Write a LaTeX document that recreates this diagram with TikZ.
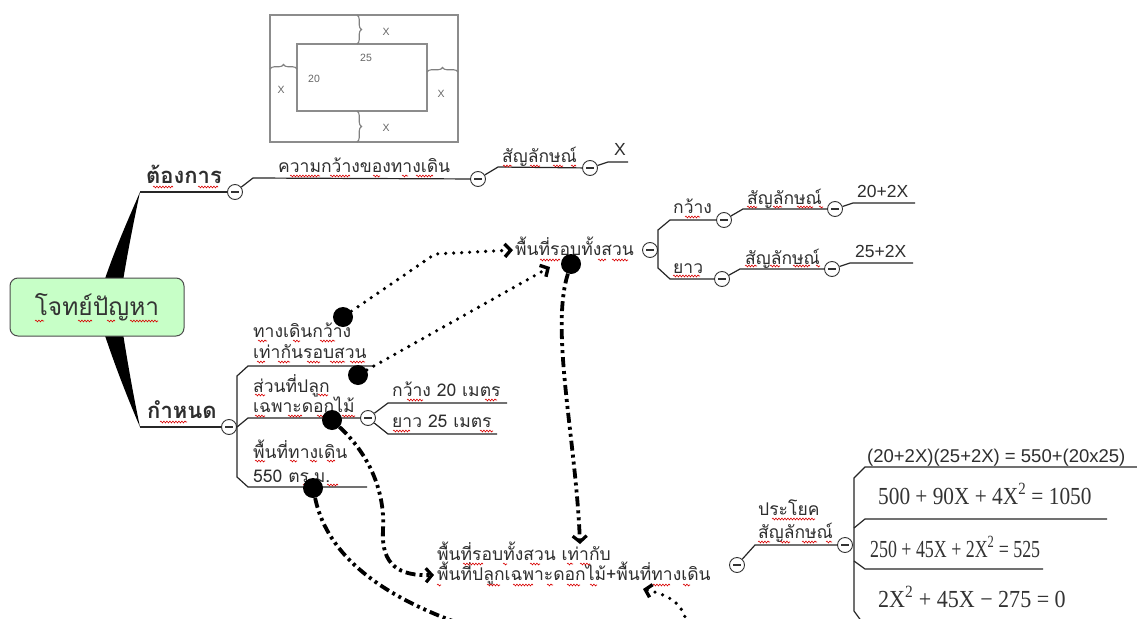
\documentclass[tikz,border=0pt]{standalone}
\usepackage{fontspec}
\setmainfont{Loma}[Script=Thai]
\newfontfamily\eqfont{Liberation Serif}
\newfontfamily\latsans{Liberation Sans}
\usetikzlibrary{arrows.meta,calc,decorations.pathreplacing,decorations.pathmorphing}

\tikzset{
  topic/.style={anchor=base west, inner sep=0pt, text=black!82,
    font=\fontsize{17.5}{20}\selectfont},
  headtopic/.style={topic, font=\fontsize{22}{24}\selectfont\bfseries},
  valtext/.style={topic, font=\latsans\fontsize{17.5}{20}\selectfont},
  eqtext/.style={anchor=base west, inner sep=0pt, text=black!80,
    font=\eqfont\fontsize{24.5}{28}\selectfont},
  rootbox/.style={draw=black!70, line width=1pt, rounded corners=8pt,
    fill=green!22!white, minimum width=174pt, minimum height=58pt,
    font=\fontsize{24.5}{28}\selectfont, text=black!80},
  fold/.style={circle, draw=black!80, fill=white, line width=0.9pt,
    minimum size=15pt, inner sep=0pt,
    path picture={\draw[line width=1.1pt]
      ([xshift=3.5pt]path picture bounding box.west) --
      ([xshift=-3.5pt]path picture bounding box.east);}},
  branch/.style={draw=black!85, line width=1.2pt},
  dot/.style={circle, fill=black, minimum size=20pt, inner sep=0pt},
  dotflow/.style={line width=3.6pt, line cap=round,
    dash pattern=on 0pt off 8pt, -{Straight Barb[length=6pt,width=13pt,line width=3.4pt]}},
  dashflow/.style={line width=3.8pt,
    dash pattern=on 10pt off 4pt on 3pt off 4pt on 3pt off 4pt,
    -{Straight Barb[length=6pt,width=14pt,line width=3.2pt]}},
  plan/.style={draw=black!45, line width=1.4pt},
  planlbl/.style={inner sep=0pt, text=black!60, font=\latsans\fontsize{10.5}{12}\selectfont},
  planbrace/.style={draw=black!50, line width=1.1pt, decorate,
    decoration={brace, amplitude=4.5pt}},
  squiggle/.style={draw=red!85!black, line width=0.6pt, decorate,
    decoration={snake, segment length=3pt, amplitude=0.9pt}}
}
% red wavy spell-check marks under words: {x from}{x to}{y}
\newcommand\squig[3]{\draw[squiggle] (#1,#3) -- (#2,#3);}

\begin{document}
\begin{tikzpicture}[x=1pt, y=-1pt]
\useasboundingbox (0,0) rectangle (1137,618);
\fill[white] (0,0) rectangle (1137,618);
\clip (0,0) rectangle (1137,618);

% ---------- garden plan ----------
\draw[plan] (270,15) rectangle (458,142);
\draw[plan] (297,44) rectangle (427,111);
\draw[planbrace] (357,15) -- (357,44);
\draw[planbrace] (357,111) -- (357,142);
\draw[planbrace] (270,69) -- (297,69);
\draw[planbrace] (427,72) -- (458,72);
\node[planlbl] (pxt) at (386,32) {X};
\node[planlbl] (pxb) at (386,128) {X};
\node[planlbl] (pxl) at (281,90) {X};
\node[planlbl] (pxr) at (441,94) {X};
\node[planlbl] (p25) at (366,58) {25};
\node[planlbl] (p20) at (314,79) {20};

% ---------- root and its two thick branches ----------
\fill[black] (98,300) .. controls (112,255) and (128,220) .. (140,192)
  .. controls (133,225) and (126,260) .. (120,300) -- cycle;
\fill[black] (98,314) .. controls (112,359) and (128,399) .. (140,427)
  .. controls (133,394) and (126,354) .. (120,314) -- cycle;
\node[rootbox] (root) at (97,307) {โจทย์ปัญหา};

% ---------- "wanted" branch ----------
\node[headtopic] (want) at (146,183) {ต้องการ};
\node[fold] (cwant) at (235,192) {};
\draw[branch] (140,192) -- (cwant);
\node[topic] (width) at (278,172) {ความกว้างของทางเดิน};
\node[fold] (cwidth) at (478,179) {};
\draw[branch] (cwant) -- (253,178) -- (cwidth);
\node[topic] (sym1) at (502,162) {สัญลักษณ์};
\node[fold] (csym1) at (590,168) {};
\draw[branch] (cwidth) -- (498,167) -- (csym1);
\node[valtext] (xval) at (614,155) {X};
\draw[branch] (csym1) -- (608,162) -- (628,162);

% ---------- area round the whole garden ----------
\node[topic] (round) at (515,255) {พื้นที่รอบทั้งสวน};
\node[fold] (cround) at (650,250) {};
\draw[branch] (717,220) -- (670,220) -- (658,230) -- (658,268) -- (670,279) -- (714,279);
\node[topic] (wide) at (673,213) {กว้าง};
\node[fold] (cw) at (724,220) {};
\node[topic] (symw) at (747,204) {สัญลักษณ์};
\node[fold] (csw) at (835,209) {};
\draw[branch] (cw) -- (743,209) -- (csw);
\node[valtext] (vw) at (857,197) {20+2X};
\draw[branch] (csw) -- (853,203) -- (915,203);
\node[topic] (long) at (673,273) {ยาว};
\node[fold] (cl) at (722,279) {};
\node[topic] (syml) at (745,264) {สัญลักษณ์};
\node[fold] (csl) at (832,269) {};
\draw[branch] (cl) -- (740,269) -- (csl);
\node[valtext] (vl) at (855,257) {25+2X};
\draw[branch] (csl) -- (850,263) -- (913,263);

% ---------- "given" branch ----------
\node[headtopic] (give) at (147,418) {กำหนด};
\node[fold] (cgive) at (229,427) {};
\draw[branch] (140,427) -- (cgive);
\draw[branch] (373,366) -- (248,366) -- (237,376) -- (237,477) -- (248,487) -- (367,487);
\node[topic] (path1) at (253,337) {ทางเดินกว้าง};
\node[topic] (path2) at (253,358) {เท่ากันรอบสวน};
\node[topic] (plant1) at (253,392) {ส่วนที่ปลูก};
\node[topic] (plant2) at (253,412) {เฉพาะดอกไม้};
\node[fold] (cplant) at (368,418) {};
\draw[branch] (237,427) -- (248,418) -- (cplant);
\node[topic] (pw) at (392,396) {กว้าง 20 เมตร};
\node[topic] (pl) at (392,427) {ยาว 25 เมตร};
\draw[branch] (cplant) -- (388,403) -- (507,403);
\draw[branch] (cplant) -- (388,434) -- (497,434);
\node[topic] (walk1) at (253,458) {พื้นที่ทางเดิน};
\node[topic] (walk2) at (253,482) {550 ตร.ม.};

% ---------- equation of areas ----------
\node[topic] (eqa) at (437,560) {พื้นที่รอบทั้งสวน เท่ากับ};
\node[topic] (eqb) at (437,580) {พื้นที่ปลูกเฉพาะดอกไม้+พื้นที่ทางเดิน};
\node[fold] (ceq) at (737,565) {};
\node[topic] (sent1) at (758,515) {ประโยค};
\node[topic] (sent2) at (758,538) {สัญลักษณ์};
\node[fold] (csent) at (845,545) {};
\draw[branch] (ceq) -- (755,545) -- (csent);
\draw[branch] (1137,467) -- (865,467) -- (854,478) -- (854,611) -- (862,622);
\draw[branch] (854,528) -- (865,519) -- (1107,519);
\draw[branch] (854,561) -- (865,569) -- (1043,569);
\node[valtext, font=\latsans\fontsize{18.5}{20}\selectfont] (e0) at (867,462) {(20+2X)(25+2X) = 550+(20x25)};
\node[eqtext, xscale=0.87] (e1) at (878,504) {500 + 90X + 4X\textsuperscript{2} = 1050};
\node[eqtext, xscale=0.73] (e2) at (870,557) {250 + 45X + 2X\textsuperscript{2} = 525};
\node[eqtext, xscale=0.9] (e3) at (878,607) {2X\textsuperscript{2} + 45X − 275 = 0};

% ---------- spell-check marks ----------
\squig{153}{173}{187}\squig{198}{218}{187}
\squig{35}{44}{321}\squig{78}{92}{321}\squig{107}{115}{321}\squig{130}{158}{321}
\squig{160}{187}{422}
\squig{290}{320}{176}\squig{330}{350}{176}\squig{373}{380}{176}\squig{402}{408}{176}\squig{416}{433}{176}
\squig{503}{512}{166}\squig{530}{540}{166}\squig{553}{563}{166}\squig{571}{576}{166}
\squig{540}{560}{260}\squig{598}{606}{260}\squig{612}{628}{260}
\squig{685}{700}{217}
\squig{747}{757}{207}\squig{773}{782}{207}\squig{797}{813}{207}\squig{819}{823}{207}
\squig{673}{700}{276}
\squig{745}{757}{266}\squig{770}{780}{266}\squig{793}{810}{266}\squig{816}{820}{266}
\squig{258}{267}{341}\squig{293}{300}{341}\squig{320}{335}{341}
\squig{257}{265}{362}\squig{278}{290}{362}\squig{307}{320}{362}\squig{330}{345}{362}\squig{350}{365}{362}
\squig{255}{265}{395}\squig{318}{328}{395}
\squig{255}{265}{416}\squig{288}{302}{416}\squig{317}{330}{416}\squig{342}{355}{416}
\squig{407}{423}{400}\squig{485}{497}{400}
\squig{393}{410}{431}\squig{480}{493}{431}
\squig{255}{265}{461}\squig{290}{297}{461}\squig{310}{317}{461}\squig{327}{335}{461}
\squig{303}{320}{485}\squig{327}{338}{485}
\squig{463}{483}{564}\squig{503}{507}{564}\squig{530}{540}{564}\squig{567}{573}{564}\squig{580}{590}{564}
\squig{437}{441}{585}\squig{487}{500}{585}\squig{513}{533}{585}\squig{547}{553}{585}\squig{567}{580}{585}\squig{590}{597}{585}\squig{650}{670}{585}\squig{683}{690}{585}
\squig{772}{815}{519}
\squig{758}{770}{542}\squig{780}{790}{542}\squig{802}{817}{542}\squig{826}{832}{542}

% ---------- links between ideas ----------
\node[dot] (d1) at (343,317) {};
\node[dot] (d2) at (358,375) {};
\node[dot] (d3) at (571,264) {};
\node[dot] (d4) at (332,420) {};
\node[dot] (d5) at (313,488) {};
\coordinate (tail) at (485,632);
\coordinate (far) at (688,632);

\draw[dotflow] (d1) -- (435,254) -- ([xshift=-2pt,yshift=5pt]round.base west);
\draw[dotflow] (d2) -- ([xshift=35pt,yshift=-12pt]round.base west);
\draw[dashflow] (d3) .. controls (550,330) and (576,440) .. ([xshift=143pt,yshift=16pt]eqa.base west);
\draw[dashflow] (d4) .. controls (375,460) and (385,500) .. (383,530)
  .. controls (381,566) and (400,576) .. ([xshift=-3pt,yshift=5pt]eqb.base west);
\draw[dashflow, -] (d5) .. controls (325,545) and (365,595) .. (tail);
\draw[dotflow] (far) .. controls (686,605) and (672,596) .. ([xshift=206pt,yshift=-9pt]eqb.base west);
\end{tikzpicture}
\end{document}
